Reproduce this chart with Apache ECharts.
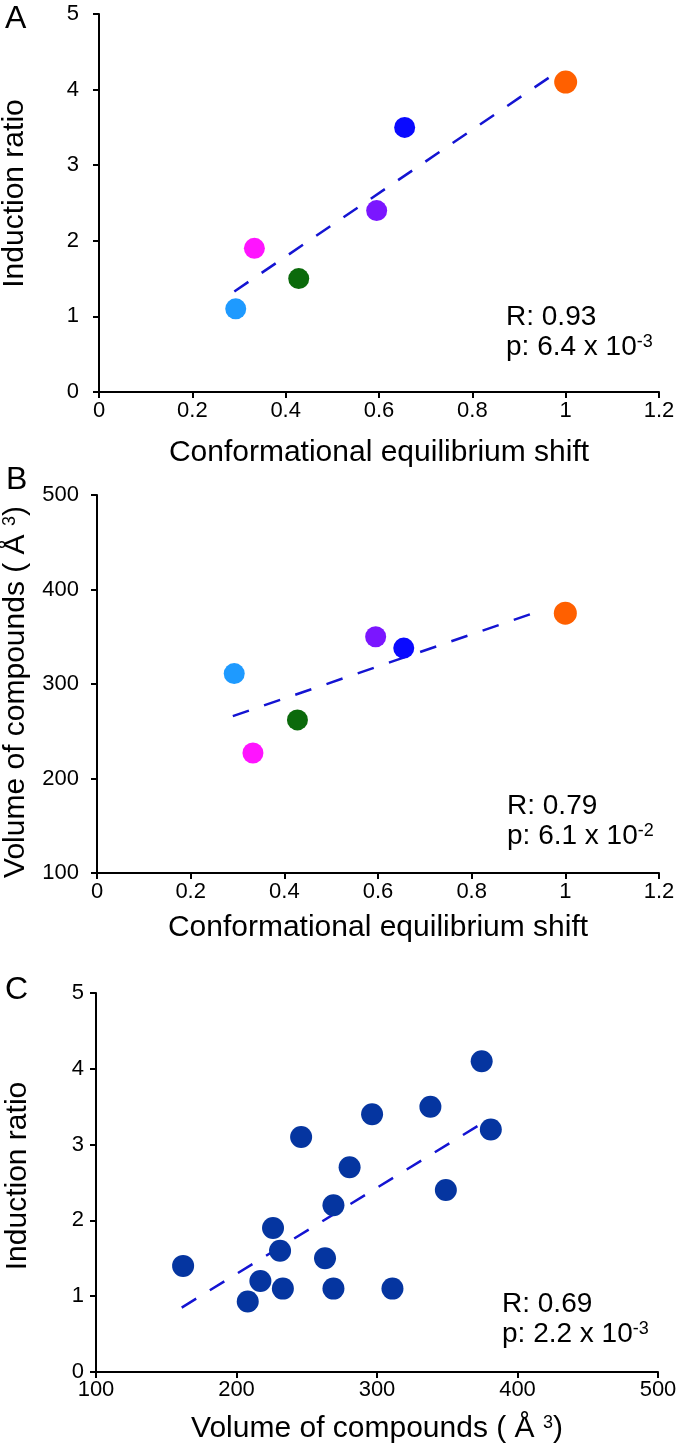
<!DOCTYPE html>
<html>
<head>
<meta charset="utf-8">
<script src="https://cdn.jsdelivr.net/npm/echarts@6/dist/echarts.min.js"></script>
<style>
html,body{margin:0;padding:0;background:#fff;}
#chart{width:677px;height:1449px;}
</style>
</head>
<body>
<div id="chart"></div>
<script>
// ---- data ----
const compoundColors = ['#1e9aff', '#ff14ff', '#0b6a0b', '#7b16ff', '#0a0aff', '#ff6000'];
const compoundSizes = [21, 21, 21, 21, 21, 23];
const shiftAB = [0.293, 0.333, 0.428, 0.595, 0.655, 1.0];
const ratioA = [1.1, 1.9, 1.5, 2.4, 3.5, 4.1];
const volumeB = [311, 227, 262, 350, 338, 375];

const volumeC = [162, 208, 217, 226, 231, 233, 246, 263, 269, 269, 280.5, 296.5, 311, 338, 349, 374.5, 381];
const ratioC = [1.4, 0.93, 1.2, 1.9, 1.6, 1.1, 3.1, 1.5, 2.2, 1.1, 2.7, 3.4, 1.1, 3.5, 2.4, 4.1, 3.2];

const trendAx = [0.29, 0.986];
const trendAy = [1.33, 4.25];
const trendBx = [0.29, 0.95];
const trendBy = [266, 378];
const trendCx = [161, 375.5];
const trendCy = [0.85, 3.29];

const ticksShift = [0, 1.2, 0.2];
const ticksRatio = [0, 5, 1];
const ticksVolume = [100, 500, 100];

const statsA = ['R: 0.93', '6.4', '-3'];
const statsB = ['R: 0.79', '6.1', '-2'];
const statsC = ['R: 0.69', '2.2', '-3'];

const panelLetters = ['A', 'B', 'C'];
const titleShift = 'Conformational equilibrium shift';
const titleRatio = 'Induction ratio';

// ---- styling ----
const FONT = '"Liberation Sans", Arial, Helvetica, sans-serif';
function fontAvailable(name) {
  const ctx = document.createElement('canvas').getContext('2d');
  const probe = '0.2 500 Conformational';
  ctx.font = '100px monospace';
  const w1 = ctx.measureText(probe).width;
  ctx.font = '100px "' + name + '", monospace';
  const w2 = ctx.measureText(probe).width;
  return Math.abs(w1 - w2) > 0.5;
}
const hasNarrow = fontAvailable('Liberation Sans Narrow');
const TICK_FONT = hasNarrow ? '"Liberation Sans Narrow", ' + FONT : FONT;
const TICK_SIZE = hasNarrow ? 24 : 22;
const TITLE_SIZE = 30;

const dashColor = '#1414d2';
const darkBlue = '#0535a0';

function axisCommon(labelMargin) {
  return {
    type: 'value',
    axisLine: { show: true, onZero: false, lineStyle: { color: '#000', width: 2 } },
    axisTick: { show: true, inside: false, length: 6, lineStyle: { color: '#000', width: 2 } },
    splitLine: { show: false },
    axisLabel: { color: '#000', fontSize: TICK_SIZE, fontFamily: TICK_FONT, margin: labelMargin },
    nameTextStyle: { color: '#000', fontSize: TITLE_SIZE, fontFamily: FONT,
      rich: {
        m: { fontSize: TITLE_SIZE, fontFamily: FONT, color: '#000' },
        s: { fontSize: 18, fontFamily: FONT, color: '#000', verticalAlign: 'top' }
      }
    },
    nameLocation: 'middle'
  };
}

function xa(grid, t, name, gap, margin) {
  return Object.assign(axisCommon(margin), {
    gridIndex: grid, min: t[0], max: t[1], interval: t[2], name: name, nameGap: gap
  });
}
function ya(grid, t, name, gap, margin, pad) {
  const a = Object.assign(axisCommon(margin), {
    gridIndex: grid, min: t[0], max: t[1], interval: t[2], name: name, nameGap: gap
  });
  a.nameTextStyle.padding = pad;
  return a;
}

const volumeName = '{m|Volume of compounds ( Å }{s|3}{m|)}';

function statText(left, top, s) {
  return [
    { type: 'text', left: left, top: top, style: { text: s[0], fontSize: 28, fontFamily: FONT, fill: '#000' } },
    { type: 'text', left: left, top: top + 30, style: {
        text: '{m|p: ' + s[1] + ' x 10}{s|' + s[2] + '}',
        rich: {
          m: { fontSize: 28, fontFamily: FONT, color: '#000', lineHeight: 28 },
          s: { fontSize: 18, fontFamily: FONT, color: '#000', verticalAlign: 'top', lineHeight: 18 }
        }
      } }
  ];
}

const chart = echarts.init(document.getElementById('chart'), null, { renderer: 'canvas' });

const option = {
  animation: false,
  backgroundColor: '#fff',
  grid: [
    { left: 99, top: 14, width: 560, height: 378, outerBoundsMode: 'none' },
    { left: 97, top: 495, width: 562, height: 378, outerBoundsMode: 'none' },
    { left: 96, top: 993, width: 562, height: 379, outerBoundsMode: 'none' }
  ],
  xAxis: [
    xa(0, ticksShift, titleShift, 46, 8),
    xa(1, ticksShift, titleShift, 40, 8),
    xa(2, ticksVolume, volumeName, 42, 7)
  ],
  yAxis: [
    ya(0, ticksRatio, titleRatio, 69, 20, [0, 0, 0, 19]),
    ya(1, ticksVolume, volumeName, 66, 18, [0, 16, 0, 0]),
    ya(2, ticksRatio, titleRatio, 63, 12, [0, 0, 0, 13])
  ],
  series: [
    {
      type: 'line', xAxisIndex: 0, yAxisIndex: 0, symbol: 'none', z: 1, silent: true,
      lineStyle: { color: dashColor, width: 2.5, type: [17, 16] },
      data: trendAx.map((x, i) => [x, trendAy[i]])
    },
    {
      type: 'scatter', xAxisIndex: 0, yAxisIndex: 0, z: 3,
      data: shiftAB.map((x, i) => ({ value: [x, ratioA[i]], symbolSize: compoundSizes[i], itemStyle: { color: compoundColors[i], opacity: 1 } }))
    },
    {
      type: 'line', xAxisIndex: 1, yAxisIndex: 1, symbol: 'none', z: 1, silent: true,
      lineStyle: { color: dashColor, width: 2.5, type: [17, 16] },
      data: trendBx.map((x, i) => [x, trendBy[i]])
    },
    {
      type: 'scatter', xAxisIndex: 1, yAxisIndex: 1, z: 3,
      data: shiftAB.map((x, i) => ({ value: [x, volumeB[i]], symbolSize: compoundSizes[i], itemStyle: { color: compoundColors[i], opacity: 1 } }))
    },
    {
      type: 'line', xAxisIndex: 2, yAxisIndex: 2, symbol: 'none', z: 1, silent: true,
      lineStyle: { color: dashColor, width: 2.5, type: [17, 16] },
      data: trendCx.map((x, i) => [x, trendCy[i]])
    },
    {
      type: 'scatter', xAxisIndex: 2, yAxisIndex: 2, z: 3, symbolSize: 22,
      itemStyle: { color: darkBlue, opacity: 1 },
      data: volumeC.map((x, i) => [x, ratioC[i]])
    }
  ],
  graphic: [
    { type: 'text', left: 5, top: 3, style: { text: panelLetters[0], fontSize: 32, fontFamily: FONT, fill: '#000' } },
    { type: 'text', left: 6, top: 464, style: { text: panelLetters[1], fontSize: 32, fontFamily: FONT, fill: '#000' } },
    { type: 'text', left: 5, top: 974, style: { text: panelLetters[2], fontSize: 32, fontFamily: FONT, fill: '#000' } }
  ].concat(statText(506, 303, statsA), statText(507, 792, statsB), statText(502, 1290, statsC))
};

chart.setOption(option);
</script>
</body>
</html>
